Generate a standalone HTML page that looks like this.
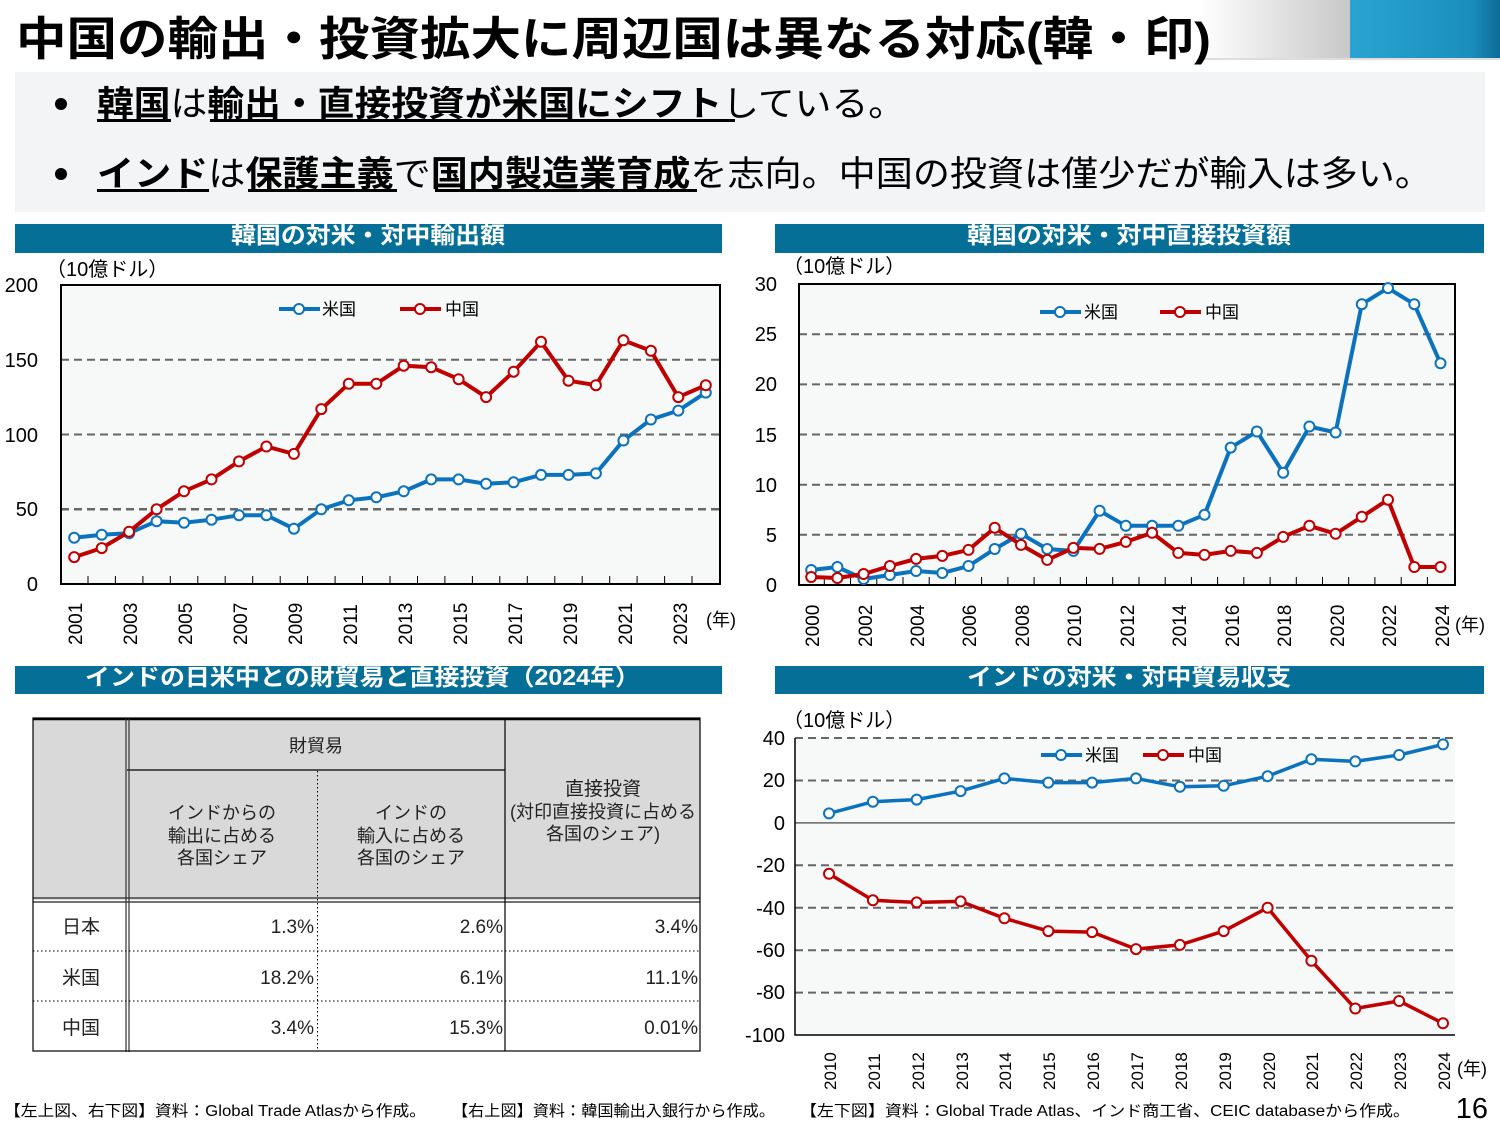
<!DOCTYPE html>
<html><head><meta charset="utf-8"><style>
html,body{margin:0;padding:0;background:#fff}
svg{display:block}
text{font-family:"Liberation Sans","Noto Sans CJK JP",sans-serif}
</style></head><body>
<svg width="1500" height="1125" viewBox="0 0 1500 1125" xmlns="http://www.w3.org/2000/svg">
<defs>
<linearGradient id="g1" x1="0" x2="1" y1="0" y2="0"><stop offset="0" stop-color="#fff"/><stop offset="1" stop-color="#c8c8c8"/></linearGradient>
<linearGradient id="g2" x1="0" x2="1" y1="0" y2="0"><stop offset="0" stop-color="#2aa3d3"/><stop offset="0.8" stop-color="#1a8fbe"/><stop offset="1" stop-color="#0e6c97"/></linearGradient>
</defs>
<!-- header -->
<rect x="1200" y="0" width="150" height="58" fill="url(#g1)"/>
<rect x="1350" y="0" width="150" height="58" fill="url(#g2)"/>
<rect x="1200" y="58" width="300" height="2" fill="#ddd"/>
<text x="16" y="55" font-size="46" font-weight="bold" fill="#000" textLength="1195" lengthAdjust="spacingAndGlyphs">中国の輸出・投資拡大に周辺国は異なる対応(韓・印)</text>
<rect x="15" y="72" width="1470" height="140" fill="#f2f4f5"/>
<circle cx="61" cy="104" r="6" fill="#000"/>
<circle cx="61" cy="174" r="6" fill="#000"/>
<text x="97" y="116" font-size="35" fill="#000" textLength="808" lengthAdjust="spacingAndGlyphs"><tspan font-weight="bold">韓国</tspan>は<tspan font-weight="bold">輸出・直接投資が米国にシフト</tspan>している。</text>
<rect x="97" y="119" width="74" height="3" fill="#000"/>
<rect x="210" y="119" width="525" height="3" fill="#000"/>
<text x="97" y="186" font-size="35" fill="#000" textLength="1335" lengthAdjust="spacingAndGlyphs"><tspan font-weight="bold">インド</tspan>は<tspan font-weight="bold">保護主義</tspan>で<tspan font-weight="bold">国内製造業育成</tspan>を志向。中国の投資は僅少だが輸入は多い。</text>
<rect x="97" y="189" width="112" height="3" fill="#000"/>
<rect x="248" y="189" width="149" height="3" fill="#000"/>
<rect x="435" y="189" width="262" height="3" fill="#000"/>

<!-- section bars -->
<rect x="15" y="224" width="707" height="29" fill="#056f98"/>
<text x="231" y="243" font-size="23" font-weight="bold" fill="#fff" textLength="274" lengthAdjust="spacingAndGlyphs">韓国の対米・対中輸出額</text>
<rect x="775" y="224" width="709" height="29" fill="#056f98"/>
<text x="967" y="243" font-size="23" font-weight="bold" fill="#fff" textLength="324" lengthAdjust="spacingAndGlyphs">韓国の対米・対中直接投資額</text>
<rect x="15" y="666" width="707" height="28" fill="#056f98"/>
<text x="85" y="685" font-size="23" font-weight="bold" fill="#fff" textLength="555" lengthAdjust="spacingAndGlyphs">インドの日米中との財貿易と直接投資（2024年）</text>
<rect x="775" y="666" width="709" height="28" fill="#056f98"/>
<text x="967" y="685" font-size="23" font-weight="bold" fill="#fff" textLength="324" lengthAdjust="spacingAndGlyphs">インドの対米・対中貿易収支</text>

<!-- chart 1 -->
<rect x="61" y="285" width="659" height="299" fill="#f7f8f8"/>
<g stroke="#666" stroke-width="2" stroke-dasharray="8,5">
<line x1="61" y1="359.8" x2="720" y2="359.8"/><line x1="61" y1="434.5" x2="720" y2="434.5"/><line x1="61" y1="509.3" x2="720" y2="509.3" stroke-width="2.5"/>
</g>
<rect x="61" y="285" width="659" height="299" fill="none" stroke="#000" stroke-width="2"/>
<g stroke="#000" stroke-width="1">
<path d="M88 584v-8M115.4 584v-8M142.9 584v-8M170.3 584v-8M197.8 584v-8M225.2 584v-8M252.7 584v-8M280.2 584v-8M307.6 584v-8M335.1 584v-8M362.5 584v-8M390 584v-8M417.5 584v-8M444.9 584v-8M472.4 584v-8M499.8 584v-8M527.3 584v-8M554.8 584v-8M582.2 584v-8M609.7 584v-8M637.1 584v-8M664.6 584v-8M692 584v-8"/>
</g>
<g font-size="20" fill="#000" text-anchor="end">
<text x="38" y="292">200</text><text x="38" y="367">150</text><text x="38" y="442">100</text><text x="38" y="516">50</text><text x="38" y="591">0</text>
</g>
<text x="46" y="276" font-size="20">（10億ドル）</text>
<g font-size="19" fill="#000">
<text transform="translate(82,645) rotate(-90)">2001</text>
<text transform="translate(137,645) rotate(-90)">2003</text>
<text transform="translate(192,645) rotate(-90)">2005</text>
<text transform="translate(247,645) rotate(-90)">2007</text>
<text transform="translate(302,645) rotate(-90)">2009</text>
<text transform="translate(357,645) rotate(-90)">2011</text>
<text transform="translate(412,645) rotate(-90)">2013</text>
<text transform="translate(467,645) rotate(-90)">2015</text>
<text transform="translate(522,645) rotate(-90)">2017</text>
<text transform="translate(577,645) rotate(-90)">2019</text>
<text transform="translate(632,645) rotate(-90)">2021</text>
<text transform="translate(687,645) rotate(-90)">2023</text>
</g>
<text x="706" y="626" font-size="18">(年)</text>
<polyline fill="none" stroke="#0b72bd" stroke-width="4" points="74.2,537.7 101.7,534.7 129.1,533.2 156.6,521.2 184,522.7 211.5,519.7 239,515.2 266.4,515.2 293.9,528.7 321.3,509.3 348.8,500.3 376.3,497.3 403.7,491.3 431.2,479.4 458.6,479.4 486.1,483.8 513.6,482.3 541,474.9 568.5,474.9 595.9,473.4 623.4,440.5 650.9,419.5 678.3,410.6 705.8,392.6"/>
<g fill="#fff" stroke="#0b72bd" stroke-width="2"><circle cx="74.2" cy="537.7" r="5"/><circle cx="101.7" cy="534.7" r="5"/><circle cx="129.1" cy="533.2" r="5"/><circle cx="156.6" cy="521.2" r="5"/><circle cx="184" cy="522.7" r="5"/><circle cx="211.5" cy="519.7" r="5"/><circle cx="239" cy="515.2" r="5"/><circle cx="266.4" cy="515.2" r="5"/><circle cx="293.9" cy="528.7" r="5"/><circle cx="321.3" cy="509.3" r="5"/><circle cx="348.8" cy="500.3" r="5"/><circle cx="376.3" cy="497.3" r="5"/><circle cx="403.7" cy="491.3" r="5"/><circle cx="431.2" cy="479.4" r="5"/><circle cx="458.6" cy="479.4" r="5"/><circle cx="486.1" cy="483.8" r="5"/><circle cx="513.6" cy="482.3" r="5"/><circle cx="541" cy="474.9" r="5"/><circle cx="568.5" cy="474.9" r="5"/><circle cx="595.9" cy="473.4" r="5"/><circle cx="623.4" cy="440.5" r="5"/><circle cx="650.9" cy="419.5" r="5"/><circle cx="678.3" cy="410.6" r="5"/><circle cx="705.8" cy="392.6" r="5"/></g>
<polyline fill="none" stroke="#c00000" stroke-width="4" points="74.2,557.1 101.7,548.1 129.1,531.7 156.6,509.3 184,491.3 211.5,479.4 239,461.4 266.4,446.5 293.9,453.9 321.3,409.1 348.8,383.7 376.3,383.7 403.7,365.7 431.2,367.2 458.6,379.2 486.1,397.1 513.6,371.7 541,341.8 568.5,380.7 595.9,385.2 623.4,340.3 650.9,350.8 678.3,397.1 705.8,385.2"/>
<g fill="#fff" stroke="#c00000" stroke-width="2"><circle cx="74.2" cy="557.1" r="5"/><circle cx="101.7" cy="548.1" r="5"/><circle cx="129.1" cy="531.7" r="5"/><circle cx="156.6" cy="509.3" r="5"/><circle cx="184" cy="491.3" r="5"/><circle cx="211.5" cy="479.4" r="5"/><circle cx="239" cy="461.4" r="5"/><circle cx="266.4" cy="446.5" r="5"/><circle cx="293.9" cy="453.9" r="5"/><circle cx="321.3" cy="409.1" r="5"/><circle cx="348.8" cy="383.7" r="5"/><circle cx="376.3" cy="383.7" r="5"/><circle cx="403.7" cy="365.7" r="5"/><circle cx="431.2" cy="367.2" r="5"/><circle cx="458.6" cy="379.2" r="5"/><circle cx="486.1" cy="397.1" r="5"/><circle cx="513.6" cy="371.7" r="5"/><circle cx="541" cy="341.8" r="5"/><circle cx="568.5" cy="380.7" r="5"/><circle cx="595.9" cy="385.2" r="5"/><circle cx="623.4" cy="340.3" r="5"/><circle cx="650.9" cy="350.8" r="5"/><circle cx="678.3" cy="397.1" r="5"/><circle cx="705.8" cy="385.2" r="5"/></g>
<line x1="279" y1="309" x2="320" y2="309" stroke="#0b72bd" stroke-width="4"/><circle cx="299" cy="309" r="5" fill="#fff" stroke="#0b72bd" stroke-width="2"/>
<text x="322" y="315" font-size="17">米国</text>
<line x1="400" y1="309" x2="441" y2="309" stroke="#c00000" stroke-width="4"/><circle cx="420" cy="309" r="5" fill="#fff" stroke="#c00000" stroke-width="2"/>
<text x="445" y="315" font-size="17">中国</text>

<!-- chart 2 -->
<rect x="799" y="284" width="656" height="301" fill="#f7f8f8"/>
<g stroke="#666" stroke-width="2" stroke-dasharray="8,5">
<line x1="799" y1="334.2" x2="1455" y2="334.2"/><line x1="799" y1="384.4" x2="1455" y2="384.4"/><line x1="799" y1="434.5" x2="1455" y2="434.5"/><line x1="799" y1="484.7" x2="1455" y2="484.7"/><line x1="799" y1="534.8" x2="1455" y2="534.8"/>
</g>
<rect x="799" y="284" width="656" height="301" fill="none" stroke="#000" stroke-width="2"/>
<path stroke="#000" stroke-width="1" d="M824.3 585v-8M850.5 585v-8M876.8 585v-8M903 585v-8M929.2 585v-8M955.4 585v-8M981.6 585v-8M1007.9 585v-8M1034.1 585v-8M1060.3 585v-8M1086.5 585v-8M1112.7 585v-8M1139 585v-8M1165.2 585v-8M1191.4 585v-8M1217.6 585v-8M1243.8 585v-8M1270.1 585v-8M1296.3 585v-8M1322.5 585v-8M1348.7 585v-8M1374.9 585v-8M1401.2 585v-8M1427.4 585v-8"/>
<g font-size="20" fill="#000" text-anchor="end">
<text x="777" y="291">30</text><text x="777" y="341">25</text><text x="777" y="391">20</text><text x="777" y="442">15</text><text x="777" y="492">10</text><text x="777" y="542">5</text><text x="777" y="592">0</text>
</g>
<text x="783" y="273" font-size="20">（10億ドル）</text>
<g font-size="19" fill="#000">
<text transform="translate(819,647) rotate(-90)">2000</text>
<text transform="translate(872,647) rotate(-90)">2002</text>
<text transform="translate(924,647) rotate(-90)">2004</text>
<text transform="translate(976,647) rotate(-90)">2006</text>
<text transform="translate(1029,647) rotate(-90)">2008</text>
<text transform="translate(1081,647) rotate(-90)">2010</text>
<text transform="translate(1134,647) rotate(-90)">2012</text>
<text transform="translate(1186,647) rotate(-90)">2014</text>
<text transform="translate(1239,647) rotate(-90)">2016</text>
<text transform="translate(1291,647) rotate(-90)">2018</text>
<text transform="translate(1344,647) rotate(-90)">2020</text>
<text transform="translate(1396,647) rotate(-90)">2022</text>
<text transform="translate(1449,647) rotate(-90)">2024</text>
</g>
<text x="1455" y="631" font-size="18">(年)</text>
<polyline fill="none" stroke="#0b72bd" stroke-width="4" points="811.2,570 837.4,567 863.6,579 889.9,575 916.1,571 942.3,573 968.5,566 994.7,549 1021,533.8 1047.2,549 1073.4,550.9 1099.6,510.8 1125.8,525.8 1152.1,525.8 1178.3,525.8 1204.5,514.8 1230.7,447.6 1256.9,431.5 1283.2,472.7 1309.4,426.5 1335.6,432.5 1361.8,304.2 1388,288.1 1414.3,304.2 1440.5,363.3"/>
<g fill="#fff" stroke="#0b72bd" stroke-width="2"><circle cx="811.2" cy="570" r="5"/><circle cx="837.4" cy="567" r="5"/><circle cx="863.6" cy="579" r="5"/><circle cx="889.9" cy="575" r="5"/><circle cx="916.1" cy="571" r="5"/><circle cx="942.3" cy="573" r="5"/><circle cx="968.5" cy="566" r="5"/><circle cx="994.7" cy="549" r="5"/><circle cx="1021" cy="533.8" r="5"/><circle cx="1047.2" cy="549" r="5"/><circle cx="1073.4" cy="550.9" r="5"/><circle cx="1099.6" cy="510.8" r="5"/><circle cx="1125.8" cy="525.8" r="5"/><circle cx="1152.1" cy="525.8" r="5"/><circle cx="1178.3" cy="525.8" r="5"/><circle cx="1204.5" cy="514.8" r="5"/><circle cx="1230.7" cy="447.6" r="5"/><circle cx="1256.9" cy="431.5" r="5"/><circle cx="1283.2" cy="472.7" r="5"/><circle cx="1309.4" cy="426.5" r="5"/><circle cx="1335.6" cy="432.5" r="5"/><circle cx="1361.8" cy="304.2" r="5"/><circle cx="1388" cy="288.1" r="5"/><circle cx="1414.3" cy="304.2" r="5"/><circle cx="1440.5" cy="363.3" r="5"/></g>
<polyline fill="none" stroke="#c00000" stroke-width="4" points="811.2,577 837.4,578 863.6,574 889.9,566 916.1,558.9 942.3,555.9 968.5,549.9 994.7,527.8 1021,544.9 1047.2,559.9 1073.4,547.9 1099.6,548.9 1125.8,541.9 1152.1,532.8 1178.3,552.9 1204.5,554.9 1230.7,550.9 1256.9,552.9 1283.2,536.9 1309.4,525.8 1335.6,533.8 1361.8,516.8 1388,499.7 1414.3,567 1440.5,567"/>
<g fill="#fff" stroke="#c00000" stroke-width="2"><circle cx="811.2" cy="577" r="5"/><circle cx="837.4" cy="578" r="5"/><circle cx="863.6" cy="574" r="5"/><circle cx="889.9" cy="566" r="5"/><circle cx="916.1" cy="558.9" r="5"/><circle cx="942.3" cy="555.9" r="5"/><circle cx="968.5" cy="549.9" r="5"/><circle cx="994.7" cy="527.8" r="5"/><circle cx="1021" cy="544.9" r="5"/><circle cx="1047.2" cy="559.9" r="5"/><circle cx="1073.4" cy="547.9" r="5"/><circle cx="1099.6" cy="548.9" r="5"/><circle cx="1125.8" cy="541.9" r="5"/><circle cx="1152.1" cy="532.8" r="5"/><circle cx="1178.3" cy="552.9" r="5"/><circle cx="1204.5" cy="554.9" r="5"/><circle cx="1230.7" cy="550.9" r="5"/><circle cx="1256.9" cy="552.9" r="5"/><circle cx="1283.2" cy="536.9" r="5"/><circle cx="1309.4" cy="525.8" r="5"/><circle cx="1335.6" cy="533.8" r="5"/><circle cx="1361.8" cy="516.8" r="5"/><circle cx="1388" cy="499.7" r="5"/><circle cx="1414.3" cy="567" r="5"/><circle cx="1440.5" cy="567" r="5"/></g>
<line x1="1040" y1="312" x2="1081" y2="312" stroke="#0b72bd" stroke-width="4"/><circle cx="1060" cy="312" r="5" fill="#fff" stroke="#0b72bd" stroke-width="2"/>
<text x="1084" y="318" font-size="17">米国</text>
<line x1="1160" y1="312" x2="1201" y2="312" stroke="#c00000" stroke-width="4"/><circle cx="1180" cy="312" r="5" fill="#fff" stroke="#c00000" stroke-width="2"/>
<text x="1205" y="318" font-size="17">中国</text>

<!-- chart 3 -->
<rect x="795" y="738" width="660" height="297" fill="#f7f8f8"/>
<g stroke="#666" stroke-width="2" stroke-dasharray="8,5">
<line x1="795" y1="780.5" x2="1455" y2="780.5"/><line x1="795" y1="865.3" x2="1455" y2="865.3"/><line x1="795" y1="907.7" x2="1455" y2="907.7"/><line x1="795" y1="950.2" x2="1455" y2="950.2"/><line x1="795" y1="992.6" x2="1455" y2="992.6"/><line x1="795" y1="738" x2="1455" y2="738"/>
</g>
<line x1="795" y1="822.9" x2="1455" y2="822.9" stroke="#666" stroke-width="1.5"/>
<path d="M795 738V1035H1455" fill="none" stroke="#000" stroke-width="1.5"/>
<g font-size="20" fill="#000" text-anchor="end">
<text x="785" y="745">40</text><text x="785" y="787">20</text><text x="785" y="830">0</text><text x="785" y="872">-20</text><text x="785" y="915">-40</text><text x="785" y="957">-60</text><text x="785" y="999">-80</text><text x="785" y="1042">-100</text>
</g>
<text x="783" y="727" font-size="20">（10億ドル）</text>
<g font-size="17" fill="#000">
<text transform="translate(836,1090) rotate(-90)">2010</text>
<text transform="translate(880,1090) rotate(-90)">2011</text>
<text transform="translate(924,1090) rotate(-90)">2012</text>
<text transform="translate(968,1090) rotate(-90)">2013</text>
<text transform="translate(1011,1090) rotate(-90)">2014</text>
<text transform="translate(1055,1090) rotate(-90)">2015</text>
<text transform="translate(1099,1090) rotate(-90)">2016</text>
<text transform="translate(1143,1090) rotate(-90)">2017</text>
<text transform="translate(1187,1090) rotate(-90)">2018</text>
<text transform="translate(1231,1090) rotate(-90)">2019</text>
<text transform="translate(1275,1090) rotate(-90)">2020</text>
<text transform="translate(1318,1090) rotate(-90)">2021</text>
<text transform="translate(1362,1090) rotate(-90)">2022</text>
<text transform="translate(1406,1090) rotate(-90)">2023</text>
<text transform="translate(1450,1090) rotate(-90)">2024</text>
</g>
<text x="1457" y="1075" font-size="18">(年)</text>
<polyline fill="none" stroke="#0b72bd" stroke-width="3.5" points="829,813.4 872.9,801.7 916.7,799.6 960.6,791.1 1004.4,778.4 1048.3,782.6 1092.1,782.6 1136,778.4 1179.9,786.8 1223.7,785.8 1267.6,776.2 1311.4,759.3 1355.3,761.4 1399.1,755 1443,744.4"/>
<g fill="#fff" stroke="#0b72bd" stroke-width="2"><circle cx="829" cy="813.4" r="5"/><circle cx="872.9" cy="801.7" r="5"/><circle cx="916.7" cy="799.6" r="5"/><circle cx="960.6" cy="791.1" r="5"/><circle cx="1004.4" cy="778.4" r="5"/><circle cx="1048.3" cy="782.6" r="5"/><circle cx="1092.1" cy="782.6" r="5"/><circle cx="1136" cy="778.4" r="5"/><circle cx="1179.9" cy="786.8" r="5"/><circle cx="1223.7" cy="785.8" r="5"/><circle cx="1267.6" cy="776.2" r="5"/><circle cx="1311.4" cy="759.3" r="5"/><circle cx="1355.3" cy="761.4" r="5"/><circle cx="1399.1" cy="755" r="5"/><circle cx="1443" cy="744.4" r="5"/></g>
<polyline fill="none" stroke="#c00000" stroke-width="3.5" points="829,873.8 872.9,900.3 916.7,902.4 960.6,901.4 1004.4,918.3 1048.3,931.1 1092.1,932.1 1136,949.1 1179.9,944.9 1223.7,931.1 1267.6,907.7 1311.4,960.8 1355.3,1008.5 1399.1,1001 1443,1023.3"/>
<g fill="#fff" stroke="#c00000" stroke-width="2"><circle cx="829" cy="873.8" r="5"/><circle cx="872.9" cy="900.3" r="5"/><circle cx="916.7" cy="902.4" r="5"/><circle cx="960.6" cy="901.4" r="5"/><circle cx="1004.4" cy="918.3" r="5"/><circle cx="1048.3" cy="931.1" r="5"/><circle cx="1092.1" cy="932.1" r="5"/><circle cx="1136" cy="949.1" r="5"/><circle cx="1179.9" cy="944.9" r="5"/><circle cx="1223.7" cy="931.1" r="5"/><circle cx="1267.6" cy="907.7" r="5"/><circle cx="1311.4" cy="960.8" r="5"/><circle cx="1355.3" cy="1008.5" r="5"/><circle cx="1399.1" cy="1001" r="5"/><circle cx="1443" cy="1023.3" r="5"/></g>
<line x1="1041" y1="755" x2="1082" y2="755" stroke="#0b72bd" stroke-width="4"/><circle cx="1061" cy="755" r="5" fill="#fff" stroke="#0b72bd" stroke-width="2"/>
<text x="1085" y="761" font-size="17">米国</text>
<line x1="1143" y1="755" x2="1184" y2="755" stroke="#c00000" stroke-width="4"/><circle cx="1163" cy="755" r="5" fill="#fff" stroke="#c00000" stroke-width="2"/>
<text x="1188" y="761" font-size="17">中国</text>

<!-- table -->
<rect x="33" y="718" width="667" height="182" fill="#d9d9d9"/>
<line x1="33" y1="719" x2="700" y2="719" stroke="#000" stroke-width="2.5"/>
<line x1="127" y1="770" x2="505" y2="770" stroke="#000" stroke-width="1.2"/>
<line x1="33" y1="898" x2="700" y2="898" stroke="#444" stroke-width="1.5"/>
<line x1="33" y1="902" x2="700" y2="902" stroke="#444" stroke-width="1.5"/>
<line x1="126" y1="718" x2="126" y2="1052" stroke="#333" stroke-width="1.2"/>
<line x1="129" y1="718" x2="129" y2="1052" stroke="#333" stroke-width="1.2"/>
<line x1="505" y1="718" x2="505" y2="1051" stroke="#000" stroke-width="1.2"/>
<line x1="317.5" y1="771" x2="317.5" y2="1051" stroke="#000" stroke-width="1" stroke-dasharray="1.5,2.5"/>
<line x1="33" y1="951" x2="700" y2="951" stroke="#000" stroke-width="1" stroke-dasharray="1.5,2.5"/>
<line x1="33" y1="1001" x2="700" y2="1001" stroke="#000" stroke-width="1" stroke-dasharray="1.5,2.5"/>
<rect x="33" y="718" width="667" height="333" fill="none" stroke="#000" stroke-width="1.2"/>
<g font-size="18" fill="#222" text-anchor="middle">
<text x="316" y="752">財貿易</text>
<text x="222" y="819">インドからの</text><text x="222" y="842">輸出に占める</text><text x="222" y="864">各国シェア</text>
<text x="411" y="819">インドの</text><text x="411" y="842">輸入に占める</text><text x="411" y="864">各国のシェア</text>
<text x="603" y="795" font-size="19">直接投資</text><text x="603" y="818">(対印直接投資に占める</text><text x="603" y="840">各国のシェア)</text>
</g>
<g font-size="19" fill="#222">
<text x="81" y="933" text-anchor="middle">日本</text><text x="81" y="984" text-anchor="middle">米国</text><text x="81" y="1034" text-anchor="middle">中国</text>
<g text-anchor="end">
<text x="314" y="933">1.3%</text><text x="503" y="933">2.6%</text><text x="698" y="933">3.4%</text>
<text x="314" y="984">18.2%</text><text x="503" y="984">6.1%</text><text x="698" y="984">11.1%</text>
<text x="314" y="1034">3.4%</text><text x="503" y="1034">15.3%</text><text x="698" y="1034">0.01%</text>
</g></g>

<!-- footer -->
<g font-size="15.5" fill="#000">
<text x="4" y="1116" textLength="422" lengthAdjust="spacingAndGlyphs">【左上図、右下図】資料：Global Trade Atlasから作成。</text>
<text x="452" y="1116" textLength="323" lengthAdjust="spacingAndGlyphs">【右上図】資料：韓国輸出入銀行から作成。</text>
<text x="800" y="1116" textLength="610" lengthAdjust="spacingAndGlyphs">【左下図】資料：Global Trade Atlas、インド商工省、CEIC databaseから作成。</text>
</g>
<text x="1488" y="1118" font-size="29" text-anchor="end">16</text>
</svg>
</body></html>
